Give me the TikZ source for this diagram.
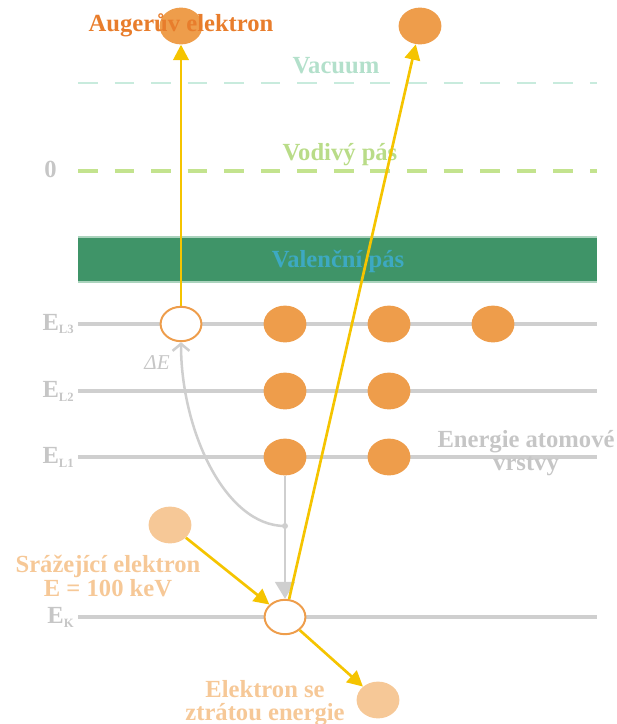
\documentclass[tikz,border=0pt]{standalone}
\usepackage{fontspec}
\setmainfont{Liberation Serif}
\usetikzlibrary{arrows.meta,shapes.geometric}
\definecolor{augOranzova}{HTML}{EE9D4B}
\definecolor{augTmava}{HTML}{E87D2C}
\definecolor{augBroskev}{HTML}{F6C897}
\definecolor{augZluta}{HTML}{F5C400}
\definecolor{augSeda}{HTML}{CFCFCF}
\definecolor{augSedaText}{HTML}{C6C6C6}
\definecolor{augPas}{HTML}{3F9468}
\definecolor{augPasOkraj}{HTML}{ABD3BD}
\definecolor{augPasText}{HTML}{3DA9C2}
\definecolor{augVakuum}{HTML}{C8EBDD}
\definecolor{augVakuumText}{HTML}{B3E0CB}
\definecolor{augVodivy}{HTML}{C3E38E}
\definecolor{augVodivyText}{HTML}{B9DC88}
\newcommand{\augsub}[1]{\raisebox{-0.35ex}{\fontsize{9}{9}\selectfont #1}}

\begin{document}
\begin{tikzpicture}[x=0.025cm, y=-0.025cm,
      el/.style={ellipse, minimum width=1.07cm, minimum height=0.92cm,
                 inner sep=0pt, fill=#1},
      el/.default=augOranzova,
      hole/.style={ellipse, minimum width=1.02cm, minimum height=0.86cm,
                   inner sep=0pt, draw=augOranzova, line width=1.4pt, fill=white},
      lvl/.style={draw=augSeda, line width=2.2pt},
      sip/.style={draw=augZluta, line width=1.9pt, -{Triangle[length=11pt,width=11pt]}},
      txt/.style={font=\bfseries\fontsize{17.5}{16.5}\selectfont, align=center, inner sep=0pt},
      lbl/.style={txt, text=augSedaText, anchor=east}]
    \useasboundingbox (0,0) rectangle (617,724);

    % pasy a hladiny
    \fill[augPas] (78,237) rectangle (597,282);
    \draw[augPasOkraj, line width=1pt] (78,237) -- (597,237) (78,282) -- (597,282);
    \draw[augVakuum, line width=1.5pt, dash pattern=on 14pt off 12pt] (78,83) -- (597,83);
    \draw[augVodivy, line width=2.2pt, dash pattern=on 14pt off 12pt] (78,171) -- (597,171);
    \foreach \y in {324,391,457,617}
      \draw[lvl] (78,\y) -- (597,\y);

    \node[txt, text=augVakuumText] (vak) at (336,66) {Vacuum};
    \node[txt, text=augVodivyText] (vod) at (340,155) {Vodivý pás};
    \node[txt, text=augPasText]    (val) at (338,261) {Valenční pás};
    \node[lbl] (nula) at (57,169) {0};
    \node[lbl] (l3) at (74,324) {E\augsub{L3}};
    \node[lbl] (l2) at (74,391) {E\augsub{L2}};
    \node[lbl] (l1) at (74,457) {E\augsub{L1}};
    \node[lbl] (k)  at (74,617) {E\augsub{K}};

    % elektrony
    \node[el] (auger) at (181,26) {};
    \node[el] (volny) at (420,26) {};
    \node[hole] (l3hole) at (181,324) {};
    \node[el] (l3a) at (285,324) {};
    \node[el] (l3b) at (389,324) {};
    \node[el] (l3c) at (493,324) {};
    \node[el] (l2a) at (285,391) {};
    \node[el] (l2b) at (389,391) {};
    \node[el] (l1a) at (285,457) {};
    \node[el] (l1b) at (389,457) {};
    \node[hole] (khole) at (285,617) {};
    \node[el=augBroskev] (vstup) at (170,525) {};
    \node[el=augBroskev] (vystup) at (378,700) {};

    % prechody
    \coordinate (uzel) at (285,526);
    \draw[augSeda, line width=1.8pt, -{Triangle[length=12pt,width=14pt]}] (l1a) -- (khole);
    \fill[augSeda] (uzel) circle (3);
    \draw[augSeda, line width=1.8pt, -{Straight Barb[length=5pt,width=12pt]}]
      (uzel) .. controls (225,526) and (181,430) .. (l3hole.south);
    \draw[sip] (l3hole) -- (auger);
    \draw[sip] (khole) -- (volny);
    \draw[sip] (vstup) -- (khole);
    \draw[sip] (khole) -- (vystup);

    % popisky
    \node[txt, text=augTmava] (augtxt) at (181,25) {Augerův elektron};
    \node[font=\itshape\fontsize{15}{15}\selectfont, text=augSedaText] (de) at (157,363) {ΔE};
    \node[txt, text=augSedaText] (vrstvy) at (526,453) {Energie atomové\\vrstvy};
    \node[txt, text=augBroskev] (srazka) at (108,576) {Srážející elektron\\E = 100 keV};
    \node[txt, text=augBroskev] (ztrata) at (265,703) {Elektron se\\ztrátou energie};
  \end{tikzpicture}
\end{document}
